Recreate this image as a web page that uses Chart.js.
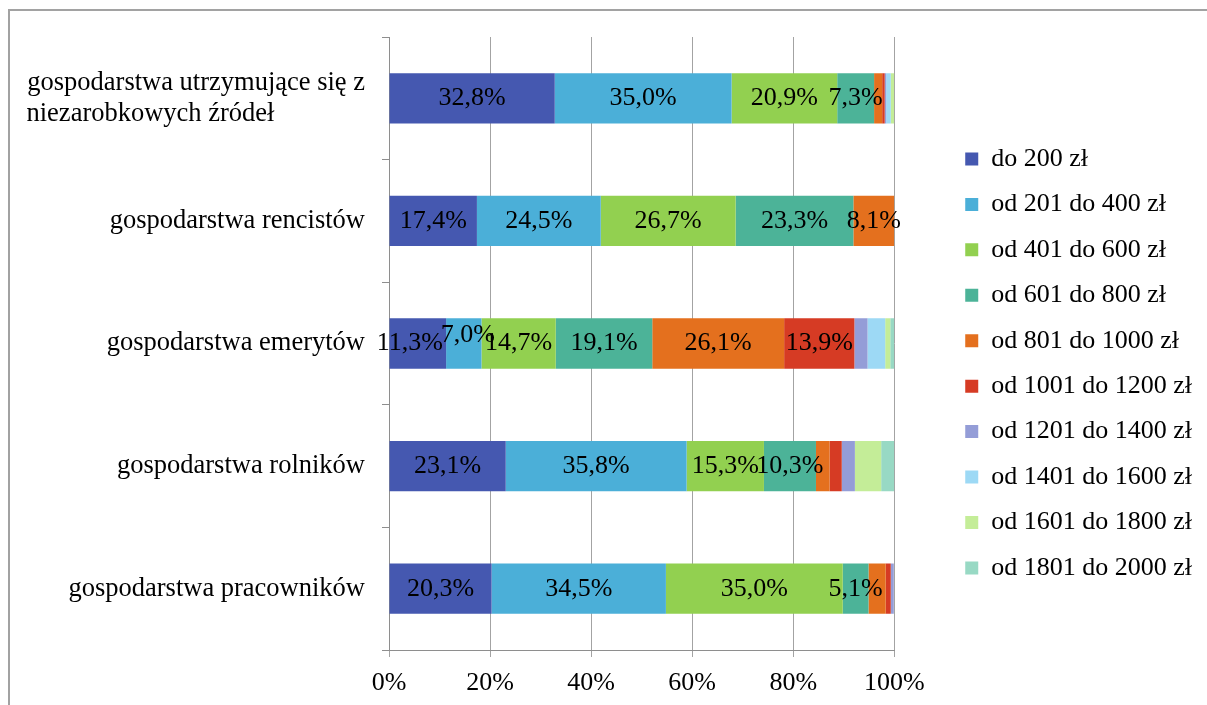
<!DOCTYPE html>
<html lang="pl">
<head>
<meta charset="utf-8">
<title>Gospodarstwa domowe według dochodu</title>
<script src="https://cdn.jsdelivr.net/npm/chart.js@4.4.1/dist/chart.umd.min.js"></script>
<style>
  html, body { margin: 0; padding: 0; background: #fff; overflow: hidden; }
  #frame {
    position: absolute; left: 8px; top: 9px; width: 1400px; height: 900px;
    border-top: 2px solid #a2a2a2; border-left: 2px solid #a2a2a2;
  }
  #c { position: absolute; left: 0; top: 0; }
</style>
</head>
<body>
<div id="frame"></div>
<canvas id="c" width="1207" height="705"></canvas>
<script>
// Household groups (top to bottom)
const categories = [
  ['gospodarstwa utrzymujące się z', 'niezarobkowych źródeł'],
  'gospodarstwa rencistów',
  'gospodarstwa emerytów',
  'gospodarstwa rolników',
  'gospodarstwa pracowników'
];

// Income brackets
const seriesNames = [
  'do 200 zł', 'od 201 do 400 zł', 'od 401 do 600 zł', 'od 601 do 800 zł',
  'od 801 do 1000 zł', 'od 1001 do 1200 zł', 'od 1201 do 1400 zł',
  'od 1401 do 1600 zł', 'od 1601 do 1800 zł', 'od 1801 do 2000 zł'
];

// Share of households in each bracket, %
const do200     = [32.8, 17.4, 11.3, 23.1, 20.3];
const od201     = [35.0, 24.5,  7.0, 35.8, 34.5];
const od401     = [20.9, 26.7, 14.7, 15.3, 35.0];
const od601     = [ 7.3, 23.3, 19.1, 10.3,  5.1];
const od801     = [ 1.6,  8.1, 26.1,  2.7,  3.4];
const od1001    = [ 0.5,  0.0, 13.9,  2.4,  1.0];
const od1201    = [ 0.3,  0.0,  2.6,  2.6,  0.6];
const od1401    = [ 0.9,  0.0,  3.5,  0.0,  0.0];
const od1601    = [ 0.7,  0.0,  1.0,  5.2,  0.0];
const od1801    = [ 0.0,  0.0,  0.8,  2.6,  0.0];

const seriesValues = [do200, od201, od401, od601, od801, od1001, od1201, od1401, od1601, od1801];

const seriesColors = [
  '#4558b0', '#4bafd8', '#92d050', '#4cb398', '#e4701e',
  '#d63b24', '#949dd7', '#9dd9f5', '#c4ed98', '#98d9c4'
];

// x-axis tick values
const xTicks = [0, 20, 40, 60, 80, 100];

const FONT = 'Liberation Serif';
const labelFont = { family: FONT, size: 26 };
const catFont = { family: FONT, size: 26.5, lineHeight: 1.17 };

// Multi-line category labels are drawn right-aligned; pad the shorter
// lines with spaces so all lines start at the same left edge.
const measureCtx = document.createElement('canvas').getContext('2d');
function leftAlignLines(label) {
  if (!Array.isArray(label)) return label;
  measureCtx.font = `${catFont.size}px "${FONT}"`;
  const widths = label.map(l => measureCtx.measureText(l).width);
  const maxW = Math.max(...widths);
  const sp = measureCtx.measureText(' ').width;
  const hair = measureCtx.measureText('\u200A').width || sp;
  return label.map((l, i) => {
    let s = l;
    let w = widths[i];
    while (maxW - w >= sp) { s += ' '; w += sp; }
    while (maxW - w > hair / 2) { s += '\u200A'; w += hair; }
    return s;
  });
}

const fmt = v => v.toFixed(1).replace('.', ',') + '%';

// Small shifts for labels that would otherwise collide (series:category)
const labelNudge = { '0:2': [-8, 0], '1:2': [4, -8.5] };

// Value labels inside the larger segments of the first six brackets
const valueLabels = {
  id: 'valueLabels',
  afterDatasetsDraw(chart) {
    const ctx = chart.ctx;
    ctx.save();
    ctx.font = `${labelFont.size}px "${FONT}"`;
    ctx.fillStyle = '#000';
    ctx.textAlign = 'center';
    ctx.textBaseline = 'middle';
    chart.data.datasets.forEach((ds, i) => {
      if (i > 5) return;
      const meta = chart.getDatasetMeta(i);
      meta.data.forEach((bar, j) => {
        const v = ds.data[j];
        if (v < 5) return;
        const p = bar.getProps(['x', 'y', 'base'], true);
        const [dx, dy] = labelNudge[`${i}:${j}`] || [0, 0];
        ctx.fillText(fmt(v), (p.x + p.base) / 2 + dx, p.y + dy);
      });
    });
    ctx.restore();
  }
};

const datasets = seriesNames.map((name, i) => ({
  label: name,
  data: seriesValues[i],
  backgroundColor: seriesColors[i],
  borderWidth: 0,
  barPercentage: 0.41,
  categoryPercentage: 1.0
}));

new Chart(document.getElementById('c'), {
  type: 'bar',
  data: { labels: categories, datasets },
  plugins: [valueLabels],
  options: {
    indexAxis: 'y',
    responsive: false,
    animation: false,
    devicePixelRatio: 1,
    layout: { padding: { left: 0, right: 5, top: 37, bottom: 0 } },
    scales: {
      x: {
        stacked: true,
        min: 0,
        max: 100,
        afterBuildTicks(scale) { scale.ticks = xTicks.map(v => ({ value: v })); },
        afterFit(scale) { scale.height = 55; },
        ticks: { callback: v => v + '%', font: labelFont, color: '#000', padding: 11, maxRotation: 0 },
        grid: { color: '#a3a3a3', tickLength: 7, lineWidth: 1 },
        border: { color: '#8e8e8e' }
      },
      y: {
        stacked: true,
        afterFit(scale) { scale.width = 389; },
        grid: { offset: true, drawOnChartArea: false, tickLength: 7, color: '#8e8e8e' },
        border: { color: '#8e8e8e' },
        ticks: {
          font: catFont,
          color: '#000',
          padding: 17,
          callback(value) { return leftAlignLines(categories[value]); }
        }
      },
      y2: {
        type: 'category',
        position: 'right',
        labels: categories,
        grid: { display: false },
        border: { display: false },
        ticks: { display: false },
        afterFit(scale) { scale.width = 51.5; }
      }
    },
    plugins: {
      legend: {
        position: 'right',
        align: 'start',
        maxWidth: 280,
        title: { display: true, text: '', font: { size: 1, lineHeight: 1 }, padding: { top: 88.5, bottom: 0 } },
        labels: { boxWidth: 13, boxHeight: 13, padding: 19.44, font: labelFont, color: '#000' }
      },
      tooltip: { enabled: false }
    }
  }
});
</script>
</body>
</html>
